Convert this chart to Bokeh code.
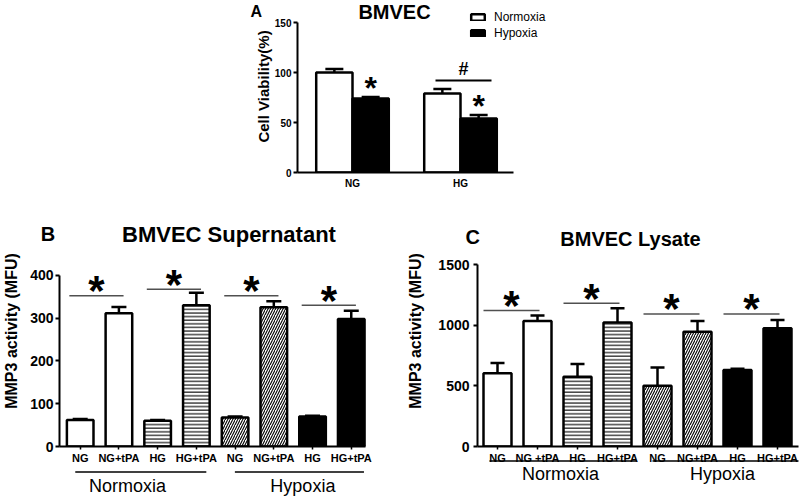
from bokeh.plotting import figure
from bokeh.models import (Range1d, FixedTicker, Whisker, TeeHead, Legend, LegendItem,
                          ColumnDataSource, Spacer)
from bokeh.layouts import column, row
from bokeh.core.properties import value
from bokeh.embed import file_html
from bokeh.resources import INLINE

FONT = "Liberation Sans"

# ---------------- data ----------------
# Panel A: BMVEC cell viability
a_groups = ["NG", "HG"]
a_series = ["Normoxia", "Hypoxia"]
a_normoxia = [100, 79]
a_normoxia_err = [3.5, 4.5]
a_hypoxia = [74, 54]
a_hypoxia_err = [1.5, 3.5]
a_hash_y = 92
a_yticks = [0, 50, 100, 150]

# Panel B: BMVEC supernatant MMP3 activity
b_labels = ["NG", "NG+tPA", "HG", "HG+tPA", "NG", "NG+tPA", "HG", "HG+tPA"]
b_values = [62, 311, 60, 330, 68, 325, 70, 298]
b_errors = [2, 15, 2, 29, 2, 14, 2, 19]
b_sig_y = [352, 367, 352, 330]
b_yticks = [0, 100, 200, 300, 400]

# Panel C: BMVEC lysate MMP3 activity
c_labels = ["NG", "NG +tPA", "HG", "HG+tPA", "NG", "NG+tPA", "HG", "HG+tPA"]
c_values = [604, 1037, 576, 1023, 502, 948, 632, 976]
c_errors = [86, 44, 105, 118, 151, 89, 10, 69]
c_sig_y = [1122, 1182, 1094, 1094]
c_yticks = [0, 500, 1000, 1500]

conditions = ["Normoxia", "Hypoxia"]

# bar styles for the 8 bars of B and C
bar_fill = ["white", "white", "white", "white", "white", "white", "black", "black"]
bar_hatch = [" ", " ", "horizontal_line", "horizontal_line",
             "right_diagonal_line", "right_diagonal_line", " ", " "]
bar_hatch_scale = [4, 4, 3.6, 3.6, 5, 5, 4, 4]


def make_fig(canvas_left, canvas_top, width, height, frame, x1_px, x_scale, y0_px, y_scale):
    fl, ft, fr, fb = frame
    fx = lambda px: 1 + (px - x1_px) / x_scale
    fy = lambda py: (y0_px - py) / y_scale
    p = figure(width=width, height=height,
               x_range=Range1d(fx(fl), fx(fr)), y_range=Range1d(fy(fb), fy(ft)),
               output_backend="svg", toolbar_location=None, title=None,
               min_border_left=fl - canvas_left,
               min_border_right=canvas_left + width - fr,
               min_border_top=ft - canvas_top,
               min_border_bottom=canvas_top + height - fb)
    p.xgrid.visible = False
    p.ygrid.visible = False
    p.outline_line_color = None
    p.background_fill_color = "white"
    p.border_fill_color = "white"
    return p, fx, fy


def style_yaxis(p, ticks, bounds, tick_size, label, label_size, standoff, label_standoff):
    ax = p.yaxis[0]
    ax.ticker = FixedTicker(ticks=ticks, minor_ticks=[])
    ax.bounds = bounds
    ax.axis_line_width = 2
    ax.axis_line_color = "black"
    ax.major_tick_line_width = 2
    ax.major_tick_line_color = "black"
    ax.major_tick_out = 4
    ax.major_tick_in = 0
    ax.minor_tick_line_color = None
    ax.major_label_text_font = FONT
    ax.major_label_text_font_style = "bold"
    ax.major_label_text_font_size = tick_size
    ax.major_label_text_color = "black"
    ax.major_label_standoff = standoff
    ax.axis_label = label
    ax.axis_label_text_font = FONT
    ax.axis_label_text_font_style = "bold"
    ax.axis_label_text_font_size = label_size
    ax.axis_label_text_color = "black"
    ax.axis_label_standoff = label_standoff


def style_xaxis(p, ticks, labels, bounds, tick_size, tick_out, standoff):
    ax = p.xaxis[0]
    ax.ticker = FixedTicker(ticks=ticks, minor_ticks=[])
    ax.major_label_overrides = {t: l for t, l in zip(ticks, labels)}
    ax.bounds = bounds
    ax.axis_line_width = 2
    ax.axis_line_color = "black"
    ax.major_tick_line_width = 1.5
    ax.major_tick_line_color = "black"
    ax.major_tick_out = tick_out
    ax.major_tick_in = 0
    ax.minor_tick_line_color = None
    ax.major_label_text_font = FONT
    ax.major_label_text_font_style = "bold"
    ax.major_label_text_font_size = tick_size
    ax.major_label_text_color = "black"
    ax.major_label_standoff = standoff


def add_text(p, x, y, txt, size, bold=True, align="center", y_offset=0, color="black"):
    p.text(x=[x], y=[y], text=[txt], text_font=value(FONT), text_font_size=f"{size}px",
           text_font_style="bold" if bold else "normal", text_align=align,
           text_baseline="middle", text_color=color, y_offset=y_offset, level="overlay")


# ---------------- Panel A ----------------
pa, ax_, ay_ = make_fig(230, 0, 370, 195, (297, 0, 600, 172), 352, 108, 172, 1.0)
a_pos = [i + 1 for i in range(len(a_groups))]
bw_a = 0.336
off_a = bw_a / 2
src_an = ColumnDataSource(dict(x=[p - off_a for p in a_pos], top=a_normoxia,
                               upper=[v + e for v, e in zip(a_normoxia, a_normoxia_err)]))
src_ah = ColumnDataSource(dict(x=[p + off_a for p in a_pos], top=a_hypoxia,
                               upper=[v + e for v, e in zip(a_hypoxia, a_hypoxia_err)]))
for src in (src_an, src_ah):
    pa.add_layout(Whisker(source=src, base="x", lower="top", upper="upper", line_width=2.5,
                          upper_head=TeeHead(size=18, line_width=2.5), lower_head=None))
rn = pa.vbar(x="x", top="top", width=bw_a, bottom=0, source=src_an, fill_color="white",
             line_color="black", line_width=2.5)
rh = pa.vbar(x="x", top="top", width=bw_a, bottom=0, source=src_ah, fill_color="black",
             line_color="black", line_width=2.5)
style_yaxis(pa, a_yticks, (0, 150), "10px", "Cell Viability(%)", "15px", 2, 0)
style_xaxis(pa, a_pos, a_groups, (ax_(297), ax_(513)), "10px", 0, 5)
# significance marks
for x, v, e in zip(src_ah.data["x"], a_hypoxia, a_hypoxia_err):
    add_text(pa, x, v + e, "*", 32, y_offset=-9)
pa.segment(x0=[ax_(435)], x1=[ax_(491)], y0=[a_hash_y], y1=[a_hash_y], line_width=2,
           line_color="black")
add_text(pa, (ax_(435) + ax_(491)) / 2, a_hash_y, "#", 18, y_offset=-12)
add_text(pa, ax_(250), ay_(10.5), "A", 16, align="left")
add_text(pa, ax_(394), ay_(11), "BMVEC", 20)
legend = Legend(items=[LegendItem(label=a_series[0], renderers=[rn]),
                       LegendItem(label=a_series[1], renderers=[rh])],
                location=(172, 131), glyph_width=17, glyph_height=8, label_height=16,
                spacing=0, padding=0, margin=0, label_standoff=8,
                border_line_color=None, background_fill_alpha=0,
                label_text_font=FONT, label_text_font_size="12px", label_text_color="black")
pa.add_layout(legend)


# ---------------- Panels B and C ----------------
def mmp_panel(canvas_left, width, frame, x1_px, x_scale, y0_px, y_scale, labels, values, errors,
              sig_y, yticks, ytop, ylab_standoff, tick_standoff, cap, bw, sig_off,
              letter, letter_xy, title, title_xy, title_size, axis_end_px,
              group_lines_px, group_line_y, group_text_px, group_text_y):
    p, fx, fy = make_fig(canvas_left, 195, width, 302, frame, x1_px, x_scale, y0_px, y_scale)
    pos = [i + 1 for i in range(len(values))]
    src = ColumnDataSource(dict(x=pos, top=values, upper=[v + e for v, e in zip(values, errors)],
                                fill=bar_fill, hatch=bar_hatch, hscale=bar_hatch_scale))
    p.add_layout(Whisker(source=src, base="x", lower="top", upper="upper", line_width=2.5,
                         upper_head=TeeHead(size=cap, line_width=2.5), lower_head=None))
    p.vbar(x="x", top="top", width=bw, bottom=0, source=src, fill_color="fill",
           line_color="black", line_width=2.5, hatch_pattern="hatch", hatch_color="black",
           hatch_scale="hscale", hatch_weight=1.1)
    style_yaxis(p, yticks, (0, ytop), "14px", "MMP3 activity (MFU)", "16px",
                tick_standoff, ylab_standoff)
    style_xaxis(p, pos, labels, (fx(frame[0]), fx(axis_end_px)), "11px", 3, 2)
    # significance lines and stars
    for k, y in enumerate(sig_y):
        a, b = pos[2 * k], pos[2 * k + 1]
        x0, x1 = a + sig_off[0], b + sig_off[1]
        p.segment(x0=[x0], x1=[x1], y0=[y], y1=[y], line_color="#505050", line_width=1.5)
        add_text(p, (x0 + x1) / 2, y, "*", 42, y_offset=-5)
    # group lines and labels under the axis
    for (l, r), cx, name in zip(group_lines_px, group_text_px, conditions):
        p.segment(x0=[fx(l)], x1=[fx(r)], y0=[fy(group_line_y)], y1=[fy(group_line_y)],
                  line_color="black", line_width=1.5, level="overlay")
        add_text(p, fx(cx), fy(group_text_y), name, 18, bold=False)
    add_text(p, fx(letter_xy[0]), fy(letter_xy[1]), letter, 20, align="left")
    add_text(p, fx(title_xy[0]), fy(title_xy[1]), title, title_size)
    return p


pb = mmp_panel(0, 400, (54, 215, 395, 447), 75, 39.3, 447, 172 / 400, b_labels, b_values, b_errors,
               b_sig_y, b_yticks, 400, 7, 2, 15, 0.687, (-0.28, 0.12),
               "B", (35, 234), "BMVEC Supernatant", (226, 234), 22, 365,
               [(70, 203), (232, 363)], 472.5, [123, 301], 486.5)
pc = mmp_panel(400, 400, (477, 215, 798, 446), 497, 40, 446, 181.7 / 1500, c_labels, c_values,
               c_errors, c_sig_y, c_yticks, 1500, 11, 4, 14, 0.7, (-0.35, 0.05),
               "C", (465, 236.5), "BMVEC Lysate", (630, 238.5), 20, 798,
               [(489, 636), (652, 798)], 460.5, [560, 722], 473)

layout = column(row(Spacer(width=230, height=195), pa), row(pb, pc))
open("out.html", "w").write(file_html(layout, INLINE))
